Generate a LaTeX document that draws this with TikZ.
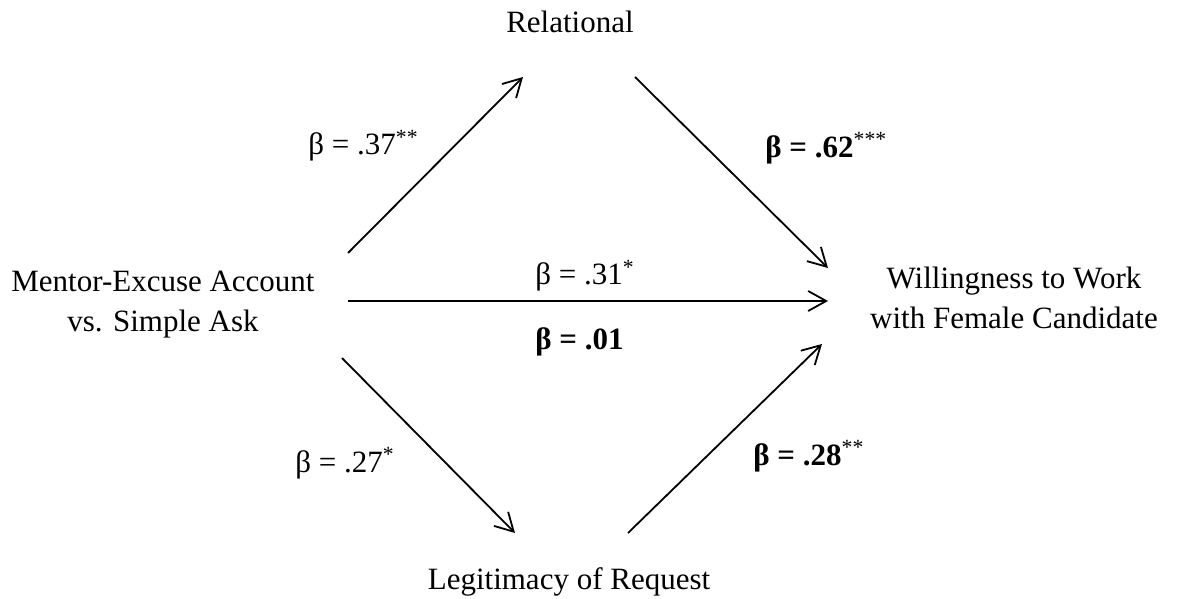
\documentclass[tikz,border=0pt]{standalone}
\usepackage{fontspec}
\setmainfont{Liberation Serif}
\usetikzlibrary{arrows.meta}
\begin{document}
\begin{tikzpicture}[x=0.5pt,y=-0.5pt,
  txt/.style={inner sep=0pt,font=\fontsize{15.5pt}{20pt}\selectfont},
  lbl/.style={inner sep=0pt,anchor=base west,font=\fontsize{15.5pt}{20pt}\selectfont},
  arr/.style={line width=0.9pt,-{Straight Barb[length=9pt,width=10pt,line width=0.9pt]}}]
\useasboundingbox (0,0) rectangle (1184,599);
% variable nodes
\node[txt,anchor=base] (rel) at (570,33) {Relational};
\node[txt,anchor=base] (leg) at (569,589) {Legitimacy of Request};
\node[txt,align=center] (iv) at (163,305) {Mentor-Excuse Account\\vs. Simple Ask};
\node[txt,align=center] (dv) at (1014,298) {Willingness to Work\\with Female Candidate};
% arrow endpoints
\coordinate (a1s) at (348,253); \coordinate (a1e) at (523,77);
\coordinate (a2s) at (635,77);  \coordinate (a2e) at (828,268);
\coordinate (a3s) at (348,301); \coordinate (a3e) at (828,301);
\coordinate (a4s) at (342,358); \coordinate (a4e) at (515,533);
\coordinate (a5s) at (628,533); \coordinate (a5e) at (822,344);
\draw[arr] (a1s) -- (a1e);
\draw[arr] (a2s) -- (a2e);
\draw[arr] (a3s) -- (a3e);
\draw[arr] (a4s) -- (a4e);
\draw[arr] (a5s) -- (a5e);
% labels
\node[lbl] (l37) at (308,155) {β = .37\textsuperscript{**}};
\node[lbl] (l62) at (765,157) {\textbf{β = .62}\textsuperscript{***}};
\node[lbl] (l31) at (535,285) {β = .31\textsuperscript{*}};
\node[lbl] (l01) at (535,349) {\textbf{β = .01}};
\node[lbl] (l27) at (295,472) {β = .27\textsuperscript{*}};
\node[lbl] (l28) at (753,465) {\textbf{β = .28}\textsuperscript{**}};
\end{tikzpicture}
\end{document}
